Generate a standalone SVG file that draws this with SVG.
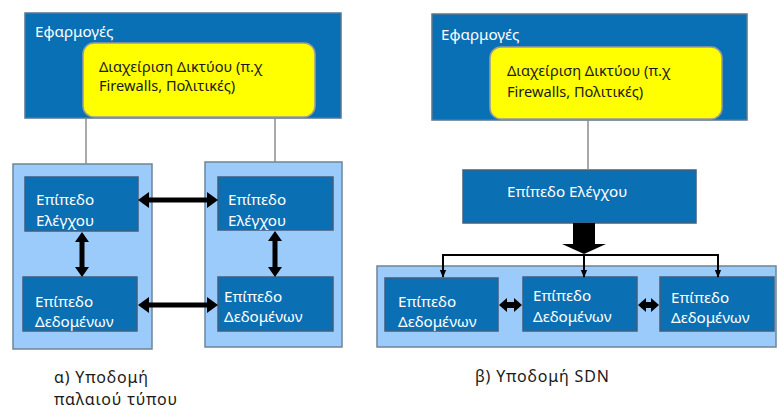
<svg xmlns="http://www.w3.org/2000/svg" width="777" height="410" viewBox="0 0 777 410">
<style>
.app{fill:#0a70b6;stroke:#5a7690;stroke-width:1.5}
.yel{fill:#ffff00;stroke:#9a9a9a;stroke-width:1.5}
.cont{fill:#9acbfb;stroke:#6f8597;stroke-width:1.5}
.dark{fill:#0b6fb3;stroke:#3f5f80;stroke-width:1.5}
.wt{fill:#ffffff;font-family:"Noto Sans","Open Sans",sans-serif;font-size:15.2px}
.bt{fill:#1a1a1a;font-family:"Noto Sans","Open Sans",sans-serif;font-size:14.6px}
.cap{fill:#1a1a1a;font-family:"Noto Sans","Open Sans",sans-serif;font-size:16px;letter-spacing:0.8px}
.gl{stroke:#8c8c8c;stroke-width:1.5;fill:none}
.bl{stroke:#000;stroke-width:2;fill:none}
.arr{fill:#000}
</style>
<defs>
<marker id="as" viewBox="0 0 10 10" refX="9" refY="5" markerWidth="4" markerHeight="4" orient="auto">
<path d="M0,1 L10,5 L0,9 Z" fill="#000"/>
</marker>
</defs>

<!-- LEFT: legacy -->
<g id="apps-a">
<rect class="app" x="25" y="13" width="316" height="105"/>
<text class="wt" x="35" y="37">Εφαρμογές</text>
</g>
<g id="mgmt-a">
<rect class="yel" x="83" y="43" width="232" height="74" rx="11"/>
<text class="bt" x="99" y="72">Διαχείριση Δικτύου (π.χ</text>
<text class="bt" x="99" y="91">Firewalls, Πολιτικές)</text>
</g>
<g id="dev-a1">
<rect class="cont" x="13" y="164" width="139" height="185"/>
</g>
<g id="dev-a2">
<rect class="cont" x="205" y="162" width="137" height="185"/>
</g>
<g id="ctrl-a1">
<rect class="dark" x="25" y="177" width="113" height="54"/>
<text class="wt" x="36" y="205">Επίπεδο</text>
<text class="wt" x="36" y="226">Ελέγχου</text>
</g>
<g id="data-a1">
<rect class="dark" x="23" y="277" width="114" height="54"/>
<text class="wt" x="35" y="307">Επίπεδο</text>
<text class="wt" x="35" y="327">Δεδομένων</text>
</g>
<g id="ctrl-a2">
<rect class="dark" x="218" y="177" width="115" height="53"/>
<text class="wt" x="228" y="205">Επίπεδο</text>
<text class="wt" x="228" y="226">Ελέγχου</text>
</g>
<g id="data-a2">
<rect class="dark" x="218" y="277" width="115" height="54"/>
<text class="wt" x="224" y="302">Επίπεδο</text>
<text class="wt" x="224" y="322">Δεδομένων</text>
</g>
<g id="caption-a">
<text class="cap" x="54" y="383">α) Υποδομή</text>
<text class="cap" x="54" y="405">παλαιού τύπου</text>
</g>

<!-- RIGHT: SDN -->
<g id="apps-b">
<rect class="app" x="432" y="14" width="315" height="106"/>
<text class="wt" x="441" y="40">Εφαρμογές</text>
</g>
<g id="mgmt-b">
<rect class="yel" x="490" y="47" width="232" height="72" rx="11"/>
<text class="bt" x="507" y="76">Διαχείριση Δικτύου (π.χ</text>
<text class="bt" x="507" y="97">Firewalls, Πολιτικές)</text>
</g>
<g id="ctrl-b">
<rect class="dark" x="463" y="170" width="233" height="53"/>
<text class="wt" x="507" y="197">Επίπεδο Ελέγχου</text>
</g>
<g id="dev-b">
<rect class="cont" x="377" y="266" width="399" height="81"/>
</g>
<g id="data-b1">
<rect class="dark" x="385" y="278" width="113" height="53"/>
<text class="wt" x="398" y="307">Επίπεδο</text>
<text class="wt" x="398" y="327">Δεδομένων</text>
</g>
<g id="data-b2">
<rect class="dark" x="523" y="277" width="114" height="54"/>
<text class="wt" x="533" y="301">Επίπεδο</text>
<text class="wt" x="533" y="322">Δεδομένων</text>
</g>
<g id="data-b3">
<rect class="dark" x="660" y="277" width="114" height="54"/>
<text class="wt" x="671" y="303">Επίπεδο</text>
<text class="wt" x="671" y="323">Δεδομένων</text>
</g>
<g id="caption-b">
<text class="cap" x="475" y="382">β) Υποδομή SDN</text>
</g>

<!-- connectors -->
<g id="connectors">
<line class="gl" x1="86" y1="118" x2="86" y2="164"/>
<line class="gl" x1="275" y1="118" x2="275" y2="162"/>
<line class="gl" x1="588" y1="120" x2="588" y2="170"/>
<!-- legacy thick double arrows (horizontal) -->
<path class="arr" d="M138,200 L149,192 L149,197.5 L207,197.5 L207,192 L218,200 L207,208 L207,202.5 L149,202.5 L149,208 Z"/>
<path class="arr" d="M138,305 L149,297 L149,302.5 L207,302.5 L207,297 L218,305 L207,313 L207,307.5 L149,307.5 L149,313 Z"/>
<!-- legacy vertical -->
<path class="arr" d="M82,232 L89,242 L84.5,242 L84.5,267 L89,267 L82,277 L75,267 L79.5,267 L79.5,242 L75,242 Z"/>
<path class="arr" d="M275,231 L282,241 L277.5,241 L277.5,267 L282,267 L275,277 L268,267 L272.5,267 L272.5,241 L268,241 Z"/>
<!-- SDN -->
<path class="arr" d="M573,223 L595,223 L595,244 L606,244 L584,254 L562,244 L573,244 Z"/>
<path class="bl" d="M443,255 L718,255 L718,277" marker-end="url(#as)"/>
<line class="bl" x1="443" y1="254" x2="443" y2="277" marker-end="url(#as)"/>
<line class="bl" x1="584" y1="254" x2="584" y2="277" marker-end="url(#as)"/>
<path class="arr" d="M499,305 L507,298 L507,302 L514,302 L514,298 L522,305 L514,312 L514,308 L507,308 L507,312 Z"/>
<path class="arr" d="M638,305 L646,298 L646,302 L651,302 L651,298 L659,305 L651,312 L651,308 L646,308 L646,312 Z"/>
</g>
</svg>
